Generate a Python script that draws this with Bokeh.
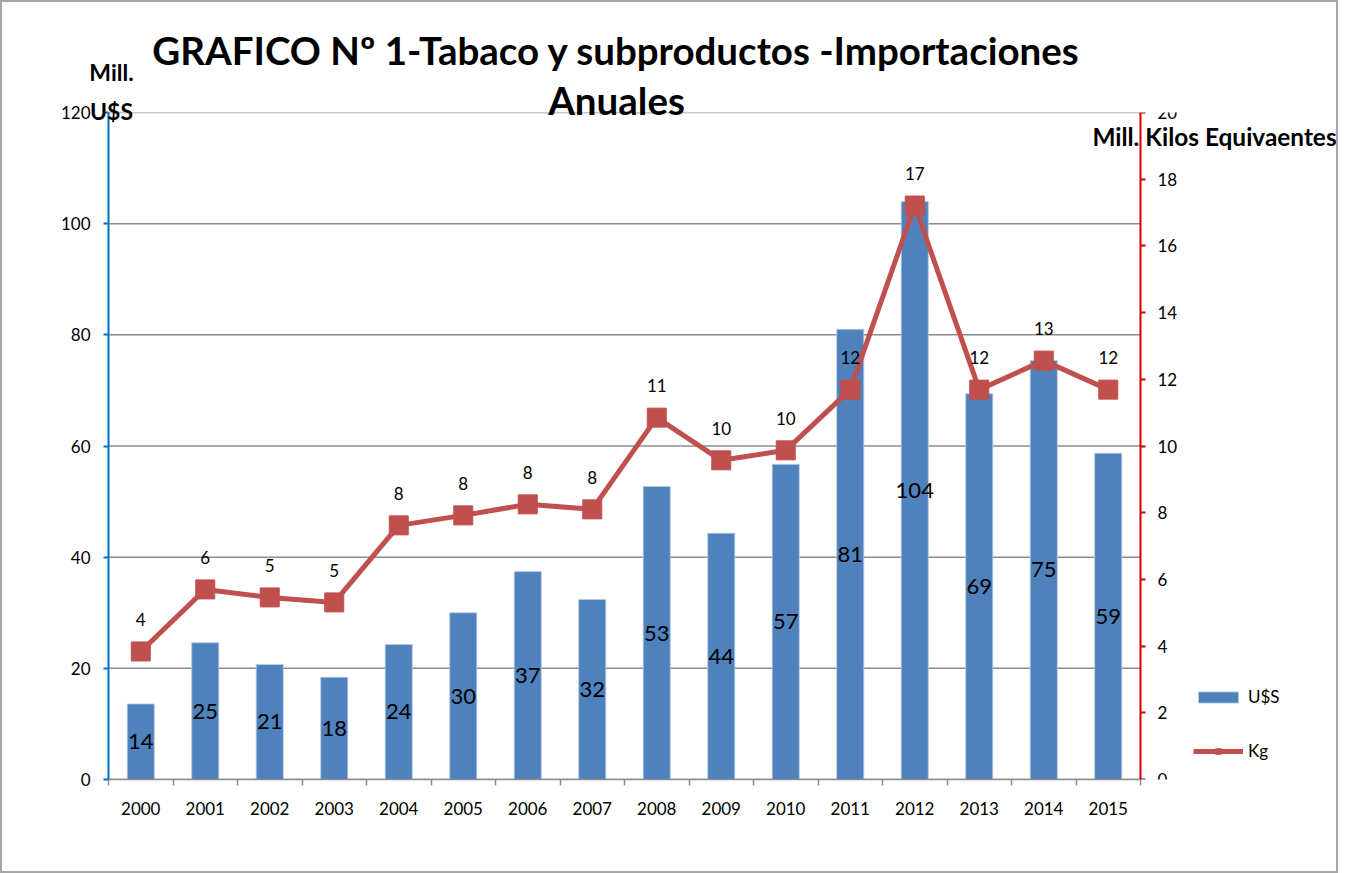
from bokeh.plotting import figure
from bokeh.models import (Range1d, LinearAxis, FixedTicker, SingleIntervalTicker,
                          Legend, LegendItem, LabelSet, Label, ColumnDataSource, Grid)
from bokeh.core.properties import value
from bokeh.embed import file_html
from bokeh.resources import INLINE

years = ["2000", "2001", "2002", "2003", "2004", "2005", "2006", "2007",
         "2008", "2009", "2010", "2011", "2012", "2013", "2014", "2015"]
usd = [13.6, 24.6, 20.7, 18.4, 24.3, 30.0, 37.4, 32.4,
       52.7, 44.3, 56.7, 81.0, 104.0, 69.4, 75.4, 58.7]
kg = [3.84, 5.70, 5.46, 5.31, 7.62, 7.92, 8.25, 8.10,
      10.85, 9.57, 9.87, 11.69, 17.21, 11.69, 12.56, 11.69]
usd_ticks = list(range(0, 121, 20))

FONT = "Lato"
n = len(years)
centers = [i + 0.5 for i in range(n)]

# layout: plotting area of the categories is 1032 px wide; the frame is wider so
# that the legend (to the right of the right axis) stays inside it
CAT_W = 1032
FRAME_W = 1184
x_end = n * FRAME_W / CAT_W

src = ColumnDataSource(dict(
    x=centers, year=years, usd=usd, kg=kg,
    mid=[v / 2 for v in usd],
    usd_lbl=["%d" % int(v + 0.5) for v in usd],
    kg_lbl=["%d" % int(v + 0.5) for v in kg],
))

p = figure(frame_width=FRAME_W, frame_height=667,
           x_range=Range1d(0, x_end), y_range=Range1d(0, 120),
           output_backend="svg", toolbar_location=None,
           x_axis_location=None, y_axis_location=None,
           min_border_left=106, min_border_top=110,
           min_border_right=44, min_border_bottom=92)
p.styles = {"border": "2px solid #a6a6a6"}
p.outline_line_color = None
p.extra_y_ranges = {"kg": Range1d(0, 20)}
p.center = [r for r in p.center if not isinstance(r, Grid)]

# horizontal gridlines across the category area only
p.segment(x0=0, x1=n, y0=usd_ticks, y1=usd_ticks, line_color="#8c8c8c", line_width=1.5)

# left axis
left = LinearAxis(ticker=FixedTicker(ticks=usd_ticks),
                  axis_line_color="#0070C0", axis_line_width=2,
                  major_tick_line_color="#0070C0", major_tick_line_width=2,
                  major_tick_out=5, major_tick_in=0,
                  minor_tick_line_color=None,
                  major_label_text_font=FONT, major_label_text_font_size="17px",
                  major_label_text_color="black", major_label_standoff=13)
p.add_layout(left, "left")

# right axis, drawn at the right end of the categories
right = LinearAxis(y_range_name="kg", fixed_location=n,
                   ticker=SingleIntervalTicker(interval=2, num_minor_ticks=0),
                   axis_line_color="#CC0000", axis_line_width=2,
                   major_tick_line_color="#CC0000", major_tick_line_width=2,
                   major_tick_out=5, major_tick_in=0,
                   minor_tick_line_color=None,
                   major_label_text_font=FONT, major_label_text_font_size="17px",
                   major_label_text_color="black", major_label_standoff=12)
p.add_layout(right, "right")

# bottom axis: labels at category centers, ticks at category boundaries
bottom = LinearAxis(ticker=FixedTicker(ticks=centers, minor_ticks=list(range(n + 1))),
                    bounds=(0, n),
                    major_label_overrides={c: y for c, y in zip(centers, years)},
                    axis_line_color="#8c8c8c", axis_line_width=1.5,
                    major_tick_line_color=None, major_tick_out=0, major_tick_in=0,
                    minor_tick_line_color="#8c8c8c", minor_tick_line_width=1.5,
                    minor_tick_out=6, minor_tick_in=0,
                    major_label_text_font=FONT, major_label_text_font_size="17px",
                    major_label_text_color="black", major_label_standoff=16)
p.add_layout(bottom, "below")

bars = p.vbar(x="x", top="usd", width=0.42, source=src,
              fill_color="#4F81BD", line_color="#B9CDE5", line_width=0.8)
ln = p.line(x="x", y="kg", y_range_name="kg", source=src,
            line_color="#C0504D", line_width=5)
sq = p.scatter(x="x", y="kg", y_range_name="kg", source=src, marker="square",
               size=19, fill_color="#C0504D", line_color="#C0504D")

p.add_layout(LabelSet(x="x", y="mid", text="usd_lbl", source=src,
                      text_align="center", text_baseline="middle",
                      text_font=value(FONT), text_font_size="22px", text_color="black"))
p.add_layout(LabelSet(x="x", y="kg", y_range_name="kg", text="kg_lbl", source=src,
                      y_offset=32, text_align="center", text_baseline="middle",
                      text_font=value(FONT), text_font_size="17px", text_color="black"))

legend = Legend(items=[LegendItem(label="U$S", renderers=[bars]),
                       LegendItem(label="Kg", renderers=[ln, sq])],
                location=(1085, 18), glyph_width=50, glyph_height=14, spacing=33,
                padding=0, margin=0,
                label_standoff=5, border_line_color=None, background_fill_alpha=0,
                label_text_font=FONT, label_text_font_size="17px",
                label_text_color="black")
p.add_layout(legend)

# titles and axis captions (canvas pixel positions, placed in side panels so not clipped)
def caption(x, y, text, size, side, lh=1.2):
    p.add_layout(Label(x=x, y=y, x_units="canvas", y_units="canvas", text=text,
                       text_align="center", text_baseline="middle", text_color="black",
                       text_line_height=lh,
                       text_font=FONT, text_font_size=size, text_font_style="bold"), side)

caption(612, 45, "GRAFICO Nº 1-Tabaco y subproductos -Importaciones", "38.5px", "above")
caption(612, 95, "Anuales", "38.5px", "above")
caption(107, 87, "Mill.\nU$S", "23px", "left", lh=1.39)
caption(1210, 132, "Mill. Kilos Equivaentes", "24.4px", "below")

open("out.html", "w").write(file_html(p, INLINE))
